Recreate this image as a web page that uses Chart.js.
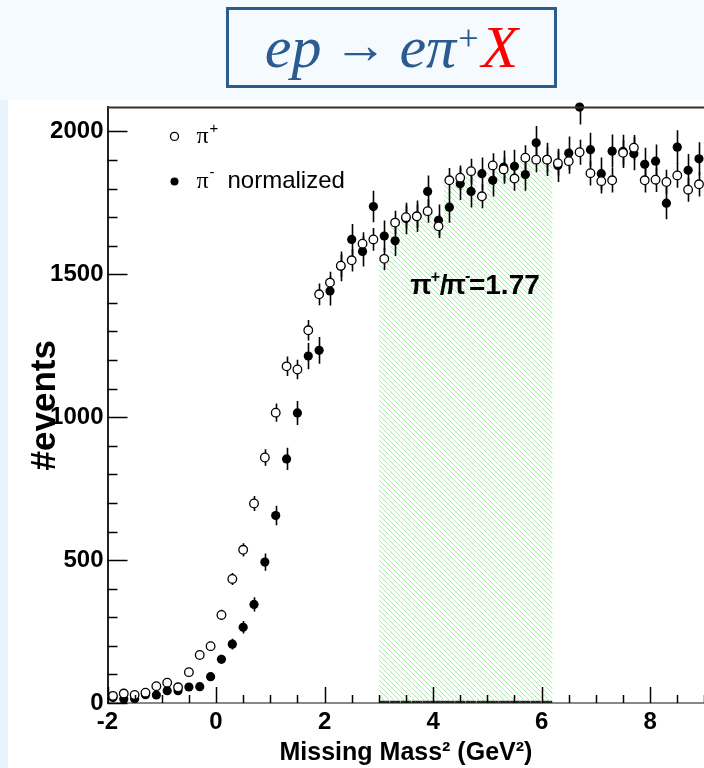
<!DOCTYPE html>
<html>
<head>
<meta charset="utf-8">
<script src="https://cdn.jsdelivr.net/npm/chart.js@4.4.1/dist/chart.umd.min.js"></script>
<style>
  html, body { margin: 0; padding: 0; width: 704px; height: 768px; overflow: hidden; background: #f5faff; }
  #strip { position: absolute; left: 0; top: 100px; width: 8px; height: 668px; background: #e8f3fc; }
  #title {
    position: absolute; left: 226px; top: 7px; width: 325px; height: 75px;
    border: 3px solid #2b5b8f; color: #2b5b8f;
    font-family: "Liberation Serif", "DejaVu Serif", serif; font-size: 60px;
    display: flex; align-items: center; justify-content: center; white-space: nowrap;
  }
  #title i { font-style: italic; }
  #title .arr { margin: 0 12px; font-size: 54px; position: relative; top: -3px; }
  #title sup { font-size: 36px; position: relative; top: -10px; margin: 0 3px 0 2px; }
  #title .red { color: #ff0000; }
  #panel { position: absolute; left: 8px; top: 100px; width: 702px; height: 668px; background: #ffffff; }
  #massChart { position: absolute; left: 8px; top: 89px; }
</style>
</head>
<body>
<div id="strip"></div>
<div id="title"><i>ep</i><span class="arr">→</span><i>eπ</i><sup>+</sup><i class="red">X</i></div>
<div id="panel"></div>
<canvas id="massChart" width="702" height="679"></canvas>

<script>
// bin centres of the missing mass squared histogram (GeV^2)
const massBins = [-1.9, -1.7, -1.5, -1.3, -1.1, -0.9, -0.7, -0.5, -0.3, -0.1,
  0.1, 0.3, 0.5, 0.7, 0.9, 1.1, 1.3, 1.5, 1.7, 1.9,
  2.1, 2.3, 2.5, 2.7, 2.9, 3.1, 3.3, 3.5, 3.7, 3.9,
  4.1, 4.3, 4.5, 4.7, 4.9, 5.1, 5.3, 5.5, 5.7, 5.9,
  6.1, 6.3, 6.5, 6.7, 6.9, 7.1, 7.3, 7.5, 7.7, 7.9,
  8.1, 8.3, 8.5, 8.7, 8.9];

// pi+ counts (open circles)
const piPlus = [25, 33, 28, 36, 59, 71, 55, 108, 168, 199,
  308, 434, 536, 698, 859, 1016, 1178, 1167, 1304, 1430,
  1471, 1530, 1549, 1607, 1622, 1554, 1681, 1700, 1703, 1721,
  1668, 1829, 1838, 1861, 1773, 1881, 1867, 1835, 1908, 1901,
  1901, 1889, 1896, 1927, 1854, 1826, 1829, 1925, 1943, 1829,
  1831, 1823, 1846, 1796, 1815];
const piPlusErr = [5, 6, 5, 6, 8, 8, 7, 10, 13, 14,
  18, 21, 23, 26, 29, 32, 34, 34, 36, 38,
  38, 39, 39, 40, 40, 39, 41, 41, 41, 41,
  41, 43, 43, 43, 42, 43, 43, 43, 44, 44,
  44, 43, 44, 44, 43, 43, 43, 44, 44, 43,
  43, 43, 43, 42, 43];

// pi- counts, normalized (filled circles)
const piMinus = [19, 14, 15, 29, 28, 43, 43, 56, 57, 92,
  153, 206, 265, 345, 493, 656, 854, 1015, 1214, 1234,
  1442, 1528, 1622, 1580, 1737, 1634, 1617, 1695, 1703, 1790,
  1689, 1735, 1817, 1790, 1852, 1829, 1875, 1878, 1849, 1960,
  1902, 1881, 1924, 2085, 1936, 1852, 1931, 1930, 1922, 1885,
  1896, 1749, 1945, 1864, 1904];
const piMinusErr = [6, 5, 5, 7, 7, 9, 9, 10, 10, 13,
  16, 19, 22, 25, 30, 34, 39, 42, 46, 47,
  51, 52, 54, 53, 55, 54, 53, 55, 55, 56,
  55, 55, 57, 56, 57, 57, 58, 58, 57, 59,
  58, 58, 58, 61, 59, 57, 58, 58, 58, 58,
  58, 56, 59, 57, 58];

// ratio window and axis ticks
const fitLow = 3.0;
const fitHigh = 6.2;
const ratioText = "=1.77";
const xTicks = [-2, 0, 2, 4, 6, 8];
const yTicks = [0, 500, 1000, 1500, 2000];

const FONT = "'Liberation Sans', Arial, Helvetica, sans-serif";

// hatch pattern for the ratio window
function makeHatch() {
  const c = document.createElement("canvas");
  c.width = 5; c.height = 5;
  const g = c.getContext("2d");
  g.fillStyle = "#a6eca6";
  for (let i = 0; i < 5; i++) g.fillRect(i, i, 1, 1);
  return g.createPattern(c, "repeat");
}

const hatchData = massBins
  .map((m, i) => ({ x: m, y: piPlus[i] }))
  .filter(p => p.x > fitLow && p.x < fitHigh);

// error bars, inside the frame
const errorBars = {
  id: "errorBars",
  afterDatasetDraw(chart, args) {
    if (args.index !== 2) return;
    const ctx = chart.ctx;
    const y = chart.scales.y;
    const area = chart.chartArea;
    ctx.save();
    ctx.beginPath();
    ctx.rect(area.left, area.top, area.right - area.left, area.bottom - area.top);
    ctx.clip();
    ctx.strokeStyle = "#000";
    ctx.lineWidth = 1.6;
    [0, 1].forEach(di => {
      const ds = chart.data.datasets[di];
      const meta = chart.getDatasetMeta(di);
      meta.data.forEach((pt, j) => {
        const v = ds.data[j].y, e = ds.errors[j];
        ctx.beginPath();
        ctx.moveTo(Math.round(pt.x) + 0.5, y.getPixelForValue(v + e));
        ctx.lineTo(Math.round(pt.x) + 0.5, y.getPixelForValue(v - e));
        ctx.stroke();
      });
    });
    ctx.restore();
  }
};

// inner ticks, top frame line, legend and ratio label
const decorations = {
  id: "decorations",
  afterDraw(chart) {
    const ctx = chart.ctx;
    const { left, right, top, bottom } = chart.chartArea;
    const xs = chart.scales.x, ys = chart.scales.y;
    ctx.save();
    ctx.strokeStyle = "#333";
    ctx.lineWidth = 2;
    ctx.beginPath();
    ctx.moveTo(left, top); ctx.lineTo(right, top);
    ctx.stroke();

    ctx.strokeStyle = "#000";
    ctx.lineWidth = 1.5;
    for (let v = 0; v <= 2000; v += 100) {
      const py = Math.round(ys.getPixelForValue(v)) + 0.5;
      const len = v % 500 === 0 ? 20 : 10;
      ctx.beginPath();
      ctx.moveTo(left, py); ctx.lineTo(left + len, py);
      ctx.stroke();
    }
    for (let v = -2; v <= 9; v += 0.5) {
      const px = Math.round(xs.getPixelForValue(v)) + 0.5;
      const len = v % 2 === 0 ? 16 : 8;
      ctx.beginPath();
      ctx.moveTo(px, bottom); ctx.lineTo(px, bottom - len);
      ctx.stroke();
    }

    // legend
    const mx = left + 67, tx = left + 89;
    const y1 = top + 29, y2 = top + 74;
    ctx.lineWidth = 1.3;
    ctx.fillStyle = "#fff";
    ctx.beginPath(); ctx.arc(mx, y1, 4, 0, Math.PI * 2); ctx.fill(); ctx.stroke();
    ctx.fillStyle = "#000";
    ctx.beginPath(); ctx.arc(mx, y2, 4, 0, Math.PI * 2); ctx.fill();
    ctx.textBaseline = "alphabetic";
    ctx.font = "24px 'Liberation Serif', serif";
    ctx.fillText("π", tx, y1 + 7);
    ctx.fillText("π", tx, y2 + 7);
    ctx.font = "15px " + FONT;
    ctx.fillText("+", tx + 13, y1 - 3);
    ctx.fillText("-", tx + 13, y2 - 4);
    ctx.font = "24px " + FONT;
    ctx.fillText("normalized", tx + 31, y2 + 7);

    // ratio label
    const lx = xs.getPixelForValue(3.58), ly = ys.getPixelForValue(1430);
    ctx.font = "bold 28px " + FONT;
    let cx = lx;
    ctx.fillText("π", cx, ly); cx += ctx.measureText("π").width;
    ctx.font = "bold 16px " + FONT;
    ctx.fillText("+", cx - 1, ly - 12); cx += 8;
    ctx.font = "bold 28px " + FONT;
    ctx.fillText("/", cx, ly); cx += ctx.measureText("/").width - 3;
    ctx.fillText("π", cx, ly); cx += ctx.measureText("π").width;
    ctx.font = "bold 16px " + FONT;
    ctx.fillText("-", cx - 1, ly - 13); cx += 3;
    ctx.font = "bold 28px " + FONT;
    ctx.fillText(ratioText, cx, ly);
    ctx.restore();
  }
};

const ctx = document.getElementById("massChart");

new Chart(ctx, {
  data: {
    datasets: [
      {
        type: "scatter",
        label: "π+",
        data: massBins.map((m, i) => ({ x: m, y: piPlus[i] })),
        errors: piPlusErr,
        pointRadius: 4.3,
        pointBackgroundColor: "#fff",
        pointBorderColor: "#000",
        pointBorderWidth: 1.3,
        clip: false,
        order: 0
      },
      {
        type: "scatter",
        label: "π- normalized",
        data: massBins.map((m, i) => ({ x: m, y: piMinus[i] })),
        errors: piMinusErr,
        pointRadius: 4.6,
        pointBackgroundColor: "#000",
        pointBorderColor: "#000",
        pointBorderWidth: 0,
        clip: false,
        order: 1
      },
      {
        type: "bar",
        label: "window",
        data: hatchData,
        backgroundColor: makeHatch(),
        borderColor: "#222",
        borderWidth: { top: 0, left: 0, right: 0, bottom: 2 },
        borderSkipped: false,
        barPercentage: 1,
        categoryPercentage: 1,
        grouped: false,
        order: 2
      }
    ]
  },
  options: {
    responsive: false,
    animation: false,
    events: [],
    layout: { padding: { left: 0, top: 18, right: 4, bottom: 0 } },
    plugins: {
      legend: { display: false },
      tooltip: { enabled: false }
    },
    scales: {
      x: {
        type: "linear",
        min: -2,
        max: 9,
        offset: false,
        afterBuildTicks: s => { s.ticks = xTicks.map(v => ({ value: v })); },
        afterFit: s => { s.height = 65; },
        grid: { display: false, drawTicks: false, offset: false },
        border: { display: true, color: "#888", width: 2 },
        ticks: {
          callback: v => String(v),
          font: { family: FONT, size: 24, weight: "bold" },
          color: "#000",
          padding: 5,
          maxRotation: 0,
          autoSkip: false
        },
        title: {
          display: true,
          text: "Missing Mass² (GeV²)",
          font: { family: FONT, size: 25, weight: "bold" },
          color: "#000",
          padding: { top: 11, bottom: 0 }
        }
      },
      y: {
        type: "linear",
        min: 0,
        max: 2084,
        afterBuildTicks: s => { s.ticks = yTicks.map(v => ({ value: v })); },
        afterFit: s => { s.width = 99.5; },
        grid: { display: false, drawTicks: false },
        border: { display: true, color: "#222", width: 2 },
        ticks: {
          callback: v => String(v),
          font: { family: FONT, size: 24, weight: "bold" },
          color: "#000",
          padding: 4
        },
        title: {
          display: true,
          text: "#events",
          font: { family: FONT, size: 35, weight: "bold" },
          color: "#000",
          padding: { top: 16, bottom: 0 }
        }
      }
    }
  },
  plugins: [errorBars, decorations]
});
</script>
</body>
</html>
